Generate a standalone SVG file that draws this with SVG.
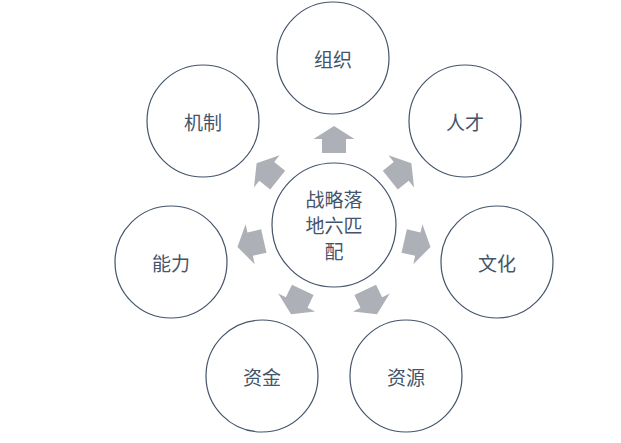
<svg xmlns="http://www.w3.org/2000/svg" xmlns:xlink="http://www.w3.org/1999/xlink" width="621" height="443" viewBox="0 0 621 443">
<style>
.n{fill:#fff;stroke:#44546A;stroke-width:1.2}
.t{font-family:"Noto Sans CJK SC","Noto Sans",sans-serif;font-size:19px;fill:#44546A;text-anchor:middle;dominant-baseline:central}
.a{fill:#ADB0B7}
</style>
<defs>
<path id="arr" d="M0,-99 L20.5,-86 L12,-86 L12,-72 L-12,-72 L-12,-86 L-20.5,-86 Z"/>
</defs>
<rect width="621" height="443" fill="#fff"/>
<g id="connectors" class="a">
<use xlink:href="#arr" transform="translate(334,225) rotate(0)"/>
<use xlink:href="#arr" transform="translate(334,225) rotate(51.43)"/>
<use xlink:href="#arr" transform="translate(334,225) rotate(102.86)"/>
<use xlink:href="#arr" transform="translate(334,225) rotate(154.29)"/>
<use xlink:href="#arr" transform="translate(334,225) rotate(205.71)"/>
<use xlink:href="#arr" transform="translate(334,225) rotate(257.14)"/>
<use xlink:href="#arr" transform="translate(334,225) rotate(308.57)"/>
</g>
<g id="center"><circle class="n" cx="334" cy="225" r="62"/>
<text class="t" x="334" y="198">战略落</text><text class="t" x="334" y="224">地六匹</text><text class="t" x="334" y="250">配</text></g>
<g id="zuzhi"><circle class="n" cx="333" cy="58" r="56"/><text class="t" x="333" y="58">组织</text></g>
<g id="rencai"><circle class="n" cx="465" cy="121" r="56"/><text class="t" x="465" y="121">人才</text></g>
<g id="wenhua"><circle class="n" cx="497" cy="262" r="56"/><text class="t" x="497" y="262">文化</text></g>
<g id="ziyuan"><circle class="n" cx="406" cy="376" r="56"/><text class="t" x="406" y="376">资源</text></g>
<g id="zijin"><circle class="n" cx="262" cy="376" r="56"/><text class="t" x="262" y="376">资金</text></g>
<g id="nengli"><circle class="n" cx="171" cy="262" r="56"/><text class="t" x="171" y="262">能力</text></g>
<g id="jizhi"><circle class="n" cx="203" cy="121" r="56"/><text class="t" x="203" y="121">机制</text></g>
</svg>
